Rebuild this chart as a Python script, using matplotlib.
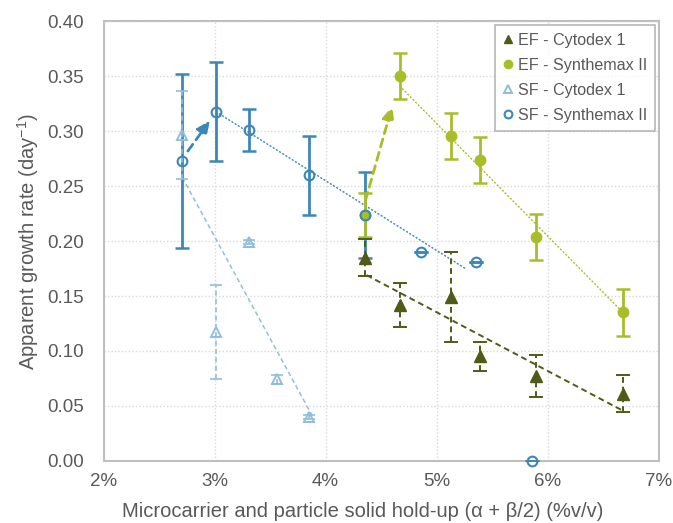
import matplotlib
matplotlib.use("Agg")
import matplotlib.pyplot as plt
from matplotlib.ticker import FuncFormatter

plt.rcParams['font.family'] = ['Liberation Sans', 'DejaVu Sans']
plt.rcParams['mathtext.default'] = 'regular'
plt.rcParams['axes.unicode_minus'] = False

# ---- data (x in % v/v, y in day^-1) ----
ef_cyt_x = [4.36, 4.67, 5.13, 5.39, 5.90, 6.68]
ef_cyt_y = [0.185, 0.142, 0.149, 0.095, 0.077, 0.061]
ef_cyt_err = [0.017, 0.020, 0.041, 0.013, 0.019, 0.017]

ef_syn_x = [4.36, 4.67, 5.13, 5.39, 5.90, 6.68]
ef_syn_y = [0.224, 0.350, 0.296, 0.274, 0.204, 0.135]
ef_syn_err = [0.020, 0.021, 0.021, 0.021, 0.021, 0.021]

sf_cyt_x = [2.71, 3.01, 3.31, 3.56, 3.85]
sf_cyt_y = [0.297, 0.117, 0.199, 0.074, 0.040]
sf_cyt_err = [0.040, 0.043, 0.002, 0.004, 0.002]

sf_syn_x = [2.71, 3.01, 3.31, 3.85, 4.36, 4.86, 5.36, 5.86]
sf_syn_y = [0.273, 0.318, 0.301, 0.260, 0.224, 0.190, 0.181, 0.000]
sf_syn_err = [0.079, 0.045, 0.019, 0.036, 0.039, 0.0, 0.0, 0.0]

# trend lines (end points)
tr_sf_cyt_x, tr_sf_cyt_y = [2.71, 3.88], [0.258, 0.041]
tr_sf_syn_x, tr_sf_syn_y = [3.01, 5.26], [0.318, 0.175]
tr_ef_syn_x, tr_ef_syn_y = [4.69, 6.67], [0.339, 0.136]
tr_ef_cyt_x, tr_ef_cyt_y = [4.37, 6.67], [0.169, 0.046]

# arrows (start, end)
arrow_sf = ((2.76, 0.282), (2.96, 0.310))
arrow_ef = ((4.36, 0.237), (4.60, 0.323))

x_ticks = [2, 3, 4, 5, 6, 7]
y_ticks = [0.00, 0.05, 0.10, 0.15, 0.20, 0.25, 0.30, 0.35, 0.40]

c_ef_cyt = '#4f5b17'
c_ef_syn = '#a9bd2b'
c_sf_cyt = '#8fbfdc'
c_sf_syn = '#3b87b8'
grey_txt = '#595959'

fig = plt.figure(figsize=(6.73, 5.23), dpi=100)
ax = fig.add_axes([0.1538, 0.1191, 0.8247, 0.8398])

# trend lines
ax.plot(tr_sf_cyt_x, tr_sf_cyt_y, color=c_sf_cyt, lw=1.1, ls=(0, (3, 2)), zorder=2)
ax.plot(tr_sf_syn_x, tr_sf_syn_y, color=c_sf_syn, lw=1.0, ls=(0, (1.5, 1.2)), zorder=2)
ax.plot(tr_ef_syn_x, tr_ef_syn_y, color=c_ef_syn, lw=1.0, ls=(0, (1.5, 1.2)), zorder=2)
ax.plot(tr_ef_cyt_x, tr_ef_cyt_y, color=c_ef_cyt, lw=1.4, ls=(0, (3, 2)), zorder=2)

# error bars + markers
e1 = ax.errorbar(sf_syn_x, sf_syn_y, yerr=sf_syn_err, fmt='none', ecolor=c_sf_syn,
                 elinewidth=2.0, capsize=5, capthick=1.8, zorder=3)
e2 = ax.errorbar(ef_syn_x, ef_syn_y, yerr=ef_syn_err, fmt='none', ecolor=c_ef_syn,
                 elinewidth=2.0, capsize=5, capthick=1.8, zorder=3)
e3 = ax.errorbar(ef_cyt_x, ef_cyt_y, yerr=ef_cyt_err, fmt='none', ecolor=c_ef_cyt,
                 elinewidth=1.4, capsize=5, capthick=1.4, zorder=3)
e3[2][0].set_linestyle((0, (3, 2)))
e4 = ax.errorbar(sf_cyt_x, sf_cyt_y, yerr=sf_cyt_err, fmt='none', ecolor=c_sf_cyt,
                 elinewidth=1.2, capsize=4, capthick=1.2, zorder=3)
e4[2][0].set_linestyle((0, (3, 2)))

ax.plot(ef_cyt_x, ef_cyt_y, ls='none', marker='^', ms=8, color=c_ef_cyt,
        label='EF - Cytodex 1', zorder=5)
ax.plot(ef_syn_x, ef_syn_y, ls='none', marker='o', ms=7.5, color=c_ef_syn,
        label='EF - Synthemax II', zorder=5)
ax.plot(sf_cyt_x, sf_cyt_y, ls='none', marker='^', ms=6.5, mfc='none', mec=c_sf_cyt,
        mew=1.4, label='SF - Cytodex 1', zorder=5)
ax.plot(sf_syn_x, sf_syn_y, ls='none', marker='o', ms=7, mfc='none', mec=c_sf_syn,
        mew=1.5, label='SF - Synthemax II', zorder=6, clip_on=False)

# arrows
for (s, e), col in ((arrow_sf, c_sf_syn), (arrow_ef, c_ef_syn)):
    ax.annotate('', xy=e, xytext=s,
                arrowprops=dict(arrowstyle='-|>,head_length=0.8,head_width=0.35',
                                color=col, lw=2.0, ls=(0, (3, 2)),
                                shrinkA=0, shrinkB=0), zorder=4)

ax.set_xlim(2, 7)
ax.set_ylim(0, 0.40)
ax.set_xticks(x_ticks)
ax.set_yticks(y_ticks)
ax.xaxis.set_major_formatter(FuncFormatter(lambda v, p: f'{v:.0f}%'))
ax.yaxis.set_major_formatter(FuncFormatter(lambda v, p: f'{v:.2f}'))
ax.tick_params(axis='both', length=0, labelsize=13.5, colors=grey_txt)
ax.tick_params(axis='y', pad=14)
ax.tick_params(axis='x', pad=9)

ax.grid(True, color='#d9d9d9', ls=(0, (1, 1.5)), lw=1.0)
ax.set_axisbelow(True)
for sp in ax.spines.values():
    sp.set_color('#bfbfbf')
    sp.set_linewidth(1.5)

ax.set_xlabel('Microcarrier and particle solid hold-up (α + β/2) (%v/v)',
              fontsize=14.5, color=grey_txt)
ax.xaxis.set_label_coords(0.4676, -0.094)
ax.set_ylabel('Apparent growth rate (day$^{-1}$)', fontsize=14.5, color=grey_txt)
ax.yaxis.set_label_coords(-0.112, 0.5)

leg = ax.legend(loc='upper right', fontsize=11.6, frameon=True, fancybox=False,
                edgecolor='#a6a6a6', handlelength=0.6, handletextpad=0.3,
                borderpad=0.5, labelspacing=0.62, markerscale=0.8,
                borderaxespad=0, bbox_to_anchor=(0.9937, 0.992))
leg.get_frame().set_linewidth(1.2)
for t in leg.get_texts():
    t.set_color(grey_txt)

fig.savefig('out.png', dpi=100)
